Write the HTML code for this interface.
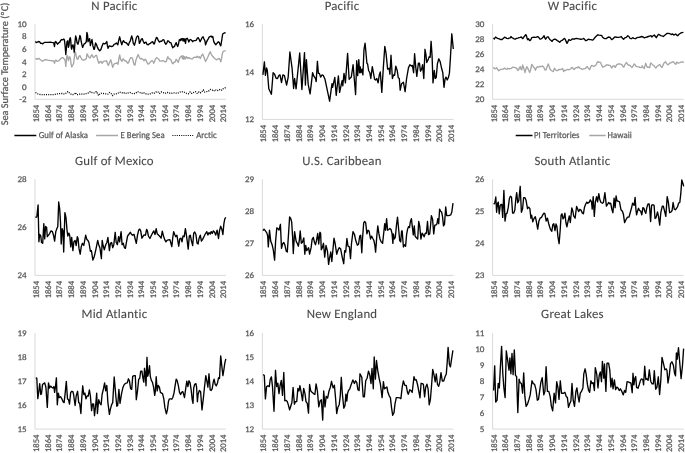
<!DOCTYPE html>
<html><head><meta charset="utf-8"><title>Sea Surface Temperature</title>
<style>html,body{margin:0;padding:0;background:#fff;}svg{display:block;}text{font-variant-ligatures:none;font-kerning:normal;text-rendering:geometricPrecision;}.t{stroke:#595959;stroke-width:0.25px;}</style></head>
<body><svg width="685" height="453" viewBox="0 0 685 453" font-family="Carlito, 'Liberation Sans', sans-serif">
<rect width="685" height="453" fill="#fff"/>

<g>
<text transform="translate(114.39999999999999,9.65)" font-size="12.8" letter-spacing="0.22" fill="#4a4a4a" stroke="#4a4a4a" stroke-width="0.1" text-anchor="middle" textLength="46.20" lengthAdjust="spacingAndGlyphs">N Pacific</text>
<path d="M35.0 24.2V99.3H225.8" fill="none" stroke="#d9d9d9" stroke-width="1"/>
<text class="t" transform="translate(26.7,102.0) scale(1.05,1)" font-size="8.6" fill="#595959" text-anchor="end" textLength="7.00" lengthAdjust="spacingAndGlyphs">-2</text>
<text class="t" transform="translate(26.7,89.5) scale(1.05,1)" font-size="8.6" fill="#595959" text-anchor="end" textLength="4.36" lengthAdjust="spacingAndGlyphs">0</text>
<text class="t" transform="translate(26.7,77.0) scale(1.05,1)" font-size="8.6" fill="#595959" text-anchor="end" textLength="4.36" lengthAdjust="spacingAndGlyphs">2</text>
<text class="t" transform="translate(26.7,64.5) scale(1.05,1)" font-size="8.6" fill="#595959" text-anchor="end" textLength="4.36" lengthAdjust="spacingAndGlyphs">4</text>
<text class="t" transform="translate(26.7,51.9) scale(1.05,1)" font-size="8.6" fill="#595959" text-anchor="end" textLength="4.36" lengthAdjust="spacingAndGlyphs">6</text>
<text class="t" transform="translate(26.7,39.4) scale(1.05,1)" font-size="8.6" fill="#595959" text-anchor="end" textLength="4.36" lengthAdjust="spacingAndGlyphs">8</text>
<text class="t" transform="translate(26.7,26.9) scale(1.05,1)" font-size="8.6" fill="#595959" text-anchor="end" textLength="8.72" lengthAdjust="spacingAndGlyphs">10</text>
<text class="t" transform="translate(38.99,104.80) rotate(-90)" font-size="8.6" fill="#595959" text-anchor="end" textLength="17.44" lengthAdjust="spacingAndGlyphs">1854</text>
<text class="t" transform="translate(50.69,104.80) rotate(-90)" font-size="8.6" fill="#595959" text-anchor="end" textLength="17.44" lengthAdjust="spacingAndGlyphs">1864</text>
<text class="t" transform="translate(62.40,104.80) rotate(-90)" font-size="8.6" fill="#595959" text-anchor="end" textLength="17.44" lengthAdjust="spacingAndGlyphs">1874</text>
<text class="t" transform="translate(74.10,104.80) rotate(-90)" font-size="8.6" fill="#595959" text-anchor="end" textLength="17.44" lengthAdjust="spacingAndGlyphs">1884</text>
<text class="t" transform="translate(85.81,104.80) rotate(-90)" font-size="8.6" fill="#595959" text-anchor="end" textLength="17.44" lengthAdjust="spacingAndGlyphs">1894</text>
<text class="t" transform="translate(97.51,104.80) rotate(-90)" font-size="8.6" fill="#595959" text-anchor="end" textLength="17.44" lengthAdjust="spacingAndGlyphs">1904</text>
<text class="t" transform="translate(109.22,104.80) rotate(-90)" font-size="8.6" fill="#595959" text-anchor="end" textLength="17.44" lengthAdjust="spacingAndGlyphs">1914</text>
<text class="t" transform="translate(120.92,104.80) rotate(-90)" font-size="8.6" fill="#595959" text-anchor="end" textLength="17.44" lengthAdjust="spacingAndGlyphs">1924</text>
<text class="t" transform="translate(132.63,104.80) rotate(-90)" font-size="8.6" fill="#595959" text-anchor="end" textLength="17.44" lengthAdjust="spacingAndGlyphs">1934</text>
<text class="t" transform="translate(144.33,104.80) rotate(-90)" font-size="8.6" fill="#595959" text-anchor="end" textLength="17.44" lengthAdjust="spacingAndGlyphs">1944</text>
<text class="t" transform="translate(156.04,104.80) rotate(-90)" font-size="8.6" fill="#595959" text-anchor="end" textLength="17.44" lengthAdjust="spacingAndGlyphs">1954</text>
<text class="t" transform="translate(167.75,104.80) rotate(-90)" font-size="8.6" fill="#595959" text-anchor="end" textLength="17.44" lengthAdjust="spacingAndGlyphs">1964</text>
<text class="t" transform="translate(179.45,104.80) rotate(-90)" font-size="8.6" fill="#595959" text-anchor="end" textLength="17.44" lengthAdjust="spacingAndGlyphs">1974</text>
<text class="t" transform="translate(191.16,104.80) rotate(-90)" font-size="8.6" fill="#595959" text-anchor="end" textLength="17.44" lengthAdjust="spacingAndGlyphs">1984</text>
<text class="t" transform="translate(202.86,104.80) rotate(-90)" font-size="8.6" fill="#595959" text-anchor="end" textLength="17.44" lengthAdjust="spacingAndGlyphs">1994</text>
<text class="t" transform="translate(214.57,104.80) rotate(-90)" font-size="8.6" fill="#595959" text-anchor="end" textLength="17.44" lengthAdjust="spacingAndGlyphs">2004</text>
<text class="t" transform="translate(226.27,104.80) rotate(-90)" font-size="8.6" fill="#595959" text-anchor="end" textLength="17.44" lengthAdjust="spacingAndGlyphs">2014</text>
</g>
<path d="M35.3 41.5 L36.4 42.6 L37.3 42.1 L38.6 41.5 L39.7 41.9 L40.6 43.4 L41.7 43.3 L42.6 43.9 L43.5 43.0 L44.8 42.4 L46.6 42.4 L48.3 42.4 L50.1 42.1 L51.8 42.4 L53.2 42.6 L53.8 43.0 L54.5 46.5 L55.1 42.1 L55.8 41.5 L56.7 43.0 L57.6 44.2 L58.5 43.0 L59.8 42.1 L60.7 40.4 L61.6 39.5 L62.3 39.9 L62.9 39.7 L63.8 39.0 L64.4 39.9 L65.1 45.7 L65.8 54.5 L66.4 47.9 L67.0 41.7 L67.7 40.8 L68.4 47.4 L69.1 44.8 L69.5 39.9 L70.2 37.7 L70.6 39.0 L71.3 47.9 L71.7 49.2 L72.3 45.7 L73.0 44.8 L73.7 47.9 L74.3 52.7 L75.0 41.7 L75.7 35.9 L76.4 38.6 L77.0 42.6 L77.9 44.3 L78.8 41.2 L79.9 35.5 L80.5 36.8 L81.1 40.8 L81.8 44.3 L82.6 47.4 L83.3 45.7 L84.1 43.9 L85.2 43.4 L86.3 41.7 L86.9 32.4 L87.6 35.1 L88.0 41.7 L88.9 39.5 L89.6 38.6 L90.4 45.7 L91.1 42.6 L92.0 39.5 L92.9 45.7 L93.8 49.2 L94.4 49.2 L95.6 43.0 L96.4 44.3 L97.5 47.4 L98.6 49.6 L99.7 50.7 L100.8 49.8 L101.9 46.5 L103.2 43.3 L104.6 43.9 L105.6 43.4 L106.8 41.5 L107.4 45.7 L108.1 48.3 L109.1 45.9 L110.3 46.1 L111.6 46.5 L112.9 46.1 L114.1 44.3 L115.3 43.9 L116.5 43.0 L117.1 43.9 L117.8 44.8 L118.7 40.4 L119.7 36.8 L120.6 40.8 L121.8 44.8 L122.6 42.1 L123.5 40.6 L124.4 42.1 L125.6 42.6 L126.6 43.0 L127.5 44.3 L128.4 45.2 L129.3 42.6 L130.3 40.8 L131.7 35.9 L132.6 39.0 L133.2 43.0 L134.4 45.2 L135.4 41.7 L136.5 37.3 L137.6 35.9 L138.5 36.8 L139.4 43.4 L140.3 41.7 L141.4 39.0 L142.3 38.6 L143.2 41.2 L144.3 43.4 L145.1 42.6 L146.0 42.1 L146.9 44.3 L148.2 44.8 L149.1 43.9 L150.4 43.3 L151.8 42.1 L152.8 41.7 L153.7 43.9 L154.4 43.9 L155.3 40.4 L156.4 37.4 L157.3 38.1 L158.3 40.4 L159.5 42.1 L160.6 41.2 L161.8 41.2 L163.0 39.7 L163.9 39.9 L164.8 42.6 L165.9 44.3 L167.0 42.6 L167.8 40.8 L168.7 41.2 L169.8 42.6 L170.9 42.6 L171.8 45.2 L172.7 47.9 L173.6 46.8 L174.5 46.5 L175.3 44.3 L176.2 42.6 L176.8 44.8 L177.7 46.5 L178.4 44.3 L179.3 39.9 L180.0 39.5 L180.6 40.6 L181.1 38.6 L181.8 39.9 L182.4 38.6 L183.0 40.8 L183.6 38.6 L184.2 41.2 L184.8 39.0 L185.5 43.4 L186.2 38.6 L187.3 38.3 L188.1 39.9 L188.8 42.1 L189.7 39.9 L190.6 39.5 L191.7 40.4 L192.6 41.7 L193.4 40.8 L194.8 40.6 L196.1 40.4 L197.4 38.1 L198.3 37.7 L199.2 39.5 L200.1 41.7 L201.2 39.5 L202.3 37.3 L203.1 36.8 L204.0 39.0 L204.9 40.8 L205.6 44.8 L206.5 42.1 L207.6 39.9 L208.4 38.6 L209.3 36.8 L210.2 36.5 L211.3 36.1 L212.1 37.4 L212.8 36.5 L213.7 41.4 L214.8 43.6 L215.9 44.7 L217.1 43.2 L218.3 41.8 L219.2 42.3 L220.1 44.9 L220.8 45.8 L221.7 40.5 L222.6 34.3 L223.4 33.4 L224.3 33.0 L225.6 32.6" fill="none" stroke="#000" stroke-width="1.35" stroke-linejoin="round"/>
<path d="M35.3 58.5 L36.4 58.9 L37.3 59.3 L38.2 58.5 L39.1 58.6 L40.4 59.8 L41.7 60.7 L42.6 61.3 L43.5 60.4 L44.8 59.8 L46.1 59.5 L47.4 60.2 L49.2 60.4 L51.0 60.7 L52.7 60.7 L53.8 61.1 L54.5 63.3 L55.2 60.7 L56.1 60.2 L57.0 61.3 L57.8 61.1 L58.9 60.7 L60.2 59.3 L61.1 58.3 L62.0 57.6 L63.3 58.0 L64.2 58.9 L65.1 60.2 L65.8 66.4 L66.4 59.8 L67.0 55.4 L67.7 56.7 L68.4 60.7 L69.1 58.0 L69.7 56.7 L70.4 58.5 L71.1 63.8 L71.7 66.8 L72.6 65.5 L73.5 63.8 L74.1 59.3 L74.8 53.2 L75.5 52.3 L76.1 55.4 L77.0 58.9 L77.9 59.3 L78.8 56.7 L79.9 55.6 L80.5 56.7 L81.1 58.0 L82.3 59.8 L83.6 60.0 L84.9 59.8 L86.3 58.5 L87.0 53.9 L87.6 54.9 L88.5 56.7 L89.3 57.6 L90.2 58.0 L91.1 55.8 L92.0 54.7 L92.9 56.7 L93.8 57.6 L94.7 56.7 L95.7 55.4 L96.6 55.4 L97.5 59.3 L98.8 63.3 L99.7 62.0 L101.0 61.5 L102.3 63.3 L103.2 61.5 L104.6 61.1 L105.9 61.1 L106.5 60.7 L107.4 63.3 L108.3 65.5 L109.4 62.9 L110.7 59.8 L111.6 62.9 L112.7 67.3 L113.4 65.5 L114.3 63.8 L115.6 63.3 L116.9 63.0 L118.0 64.2 L118.9 58.5 L119.7 54.9 L120.6 59.3 L121.8 61.5 L122.6 59.3 L123.5 58.9 L124.4 60.7 L125.6 60.7 L126.8 62.0 L127.9 63.3 L128.8 62.0 L129.7 59.3 L130.8 57.6 L132.1 57.6 L133.0 60.2 L133.8 64.2 L135.0 65.1 L135.9 60.2 L137.2 56.7 L138.3 54.7 L139.1 56.7 L140.3 58.9 L141.6 58.5 L142.9 59.3 L144.1 60.7 L145.1 59.3 L146.2 60.2 L146.9 62.4 L148.2 64.2 L149.6 62.9 L150.9 61.5 L151.8 60.7 L152.8 61.1 L153.7 63.3 L154.6 61.5 L155.5 58.9 L156.6 57.6 L157.7 58.5 L158.8 59.3 L159.9 61.1 L161.2 61.1 L162.6 60.7 L163.9 61.1 L165.2 62.0 L166.3 61.5 L167.1 58.5 L167.8 56.7 L168.7 58.5 L169.8 58.9 L170.9 59.8 L172.1 62.9 L173.0 63.8 L173.8 62.4 L175.1 62.0 L176.2 59.3 L177.1 60.7 L178.3 62.4 L179.3 58.9 L180.2 57.1 L181.1 56.7 L181.8 55.8 L182.5 58.9 L183.2 55.8 L183.9 59.3 L184.6 56.7 L185.5 58.9 L186.4 56.7 L187.3 57.6 L188.1 58.5 L189.0 57.6 L190.1 58.5 L191.2 58.9 L192.6 58.9 L193.4 57.6 L194.8 57.1 L196.1 57.6 L197.1 56.2 L198.3 57.6 L199.2 56.7 L200.3 58.5 L201.4 55.8 L202.7 54.0 L203.8 56.7 L204.7 59.3 L205.6 61.5 L206.7 59.3 L208.0 56.7 L209.1 54.0 L210.2 51.7 L211.3 54.3 L212.4 56.1 L213.7 57.4 L215.1 58.7 L216.4 59.8 L217.7 59.2 L219.0 58.3 L219.9 59.6 L220.8 61.8 L221.7 57.4 L222.6 52.6 L223.6 51.2 L224.8 50.8 L225.6 50.4" fill="none" stroke="#a6a6a6" stroke-width="1.35" stroke-linejoin="round"/>
<path d="M35.5 92.5 L37.7 93.8 L39.5 94.4 L42.1 94.7 L44.7 94.7 L47.3 94.7 L50.0 94.7 L52.6 94.7 L55.2 94.4 L56.8 93.8 L58.7 93.8 L60.5 93.5 L62.2 93.5 L64.4 94.1 L65.7 93.4 L67.0 92.3 L67.9 91.6 L68.8 92.5 L70.1 93.4 L71.4 94.4 L72.7 94.7 L74.1 94.2 L74.9 93.4 L75.5 92.5 L76.2 94.1 L77.6 94.7 L78.9 94.4 L80.6 93.8 L82.4 94.2 L85.0 94.2 L86.8 93.4 L88.5 92.9 L90.3 91.6 L92.0 92.5 L94.2 92.9 L96.4 91.6 L97.7 93.8 L98.6 95.6 L99.9 93.8 L101.2 93.4 L103.0 93.5 L105.6 93.8 L107.8 94.1 L109.5 92.5 L111.3 93.8 L112.6 95.6 L113.9 94.2 L116.1 93.8 L117.8 93.4 L119.6 92.0 L121.4 92.5 L123.1 93.4 L124.9 92.5 L126.6 93.5 L128.4 92.9 L130.1 92.5 L131.9 93.4 L133.2 93.8 L135.4 93.4 L137.6 91.6 L139.7 92.5 L141.5 93.4 L143.3 92.5 L145.0 93.4 L146.8 94.2 L148.5 94.2 L150.3 93.8 L152.0 92.9 L153.8 93.4 L156.0 92.0 L157.7 91.6 L159.5 93.4 L161.2 92.0 L163.0 92.5 L165.1 93.4 L167.3 92.5 L169.1 92.9 L170.8 93.5 L173.0 92.9 L175.2 92.9 L177.4 93.4 L179.2 92.5 L180.9 91.6 L183.1 91.8 L184.9 92.5 L186.6 93.5 L188.4 93.8 L190.1 92.0 L191.9 93.4 L193.6 92.5 L195.4 91.6 L197.1 93.4 L198.9 92.0 L200.2 92.9 L201.9 91.6 L203.3 89.8 L204.6 92.0 L206.8 91.6 L208.5 91.2 L210.3 89.4 L212.0 89.8 L213.8 91.2 L215.2 89.7 L217.0 90.8 L218.7 90.1 L220.5 89.2 L221.8 90.1 L223.1 88.8 L224.4 88.4 L225.6 87.5" fill="none" stroke="#000" stroke-width="1.3" stroke-linejoin="round" stroke-dasharray="1 1.2"/>
<g>
<text transform="translate(342.0,9.65)" font-size="12.8" letter-spacing="0.22" fill="#4a4a4a" stroke="#4a4a4a" stroke-width="0.1" text-anchor="middle" textLength="34.61" lengthAdjust="spacingAndGlyphs">Pacific</text>
<path d="M262.4 24.2V119.4H453.6" fill="none" stroke="#d9d9d9" stroke-width="1"/>
<text class="t" transform="translate(254.1,122.1) scale(1.05,1)" font-size="8.6" fill="#595959" text-anchor="end" textLength="8.72" lengthAdjust="spacingAndGlyphs">12</text>
<text class="t" transform="translate(254.1,74.5) scale(1.05,1)" font-size="8.6" fill="#595959" text-anchor="end" textLength="8.72" lengthAdjust="spacingAndGlyphs">14</text>
<text class="t" transform="translate(254.1,26.9) scale(1.05,1)" font-size="8.6" fill="#595959" text-anchor="end" textLength="8.72" lengthAdjust="spacingAndGlyphs">16</text>
<text class="t" transform="translate(266.39,124.90) rotate(-90)" font-size="8.6" fill="#595959" text-anchor="end" textLength="17.44" lengthAdjust="spacingAndGlyphs">1854</text>
<text class="t" transform="translate(278.12,124.90) rotate(-90)" font-size="8.6" fill="#595959" text-anchor="end" textLength="17.44" lengthAdjust="spacingAndGlyphs">1864</text>
<text class="t" transform="translate(289.85,124.90) rotate(-90)" font-size="8.6" fill="#595959" text-anchor="end" textLength="17.44" lengthAdjust="spacingAndGlyphs">1874</text>
<text class="t" transform="translate(301.58,124.90) rotate(-90)" font-size="8.6" fill="#595959" text-anchor="end" textLength="17.44" lengthAdjust="spacingAndGlyphs">1884</text>
<text class="t" transform="translate(313.31,124.90) rotate(-90)" font-size="8.6" fill="#595959" text-anchor="end" textLength="17.44" lengthAdjust="spacingAndGlyphs">1894</text>
<text class="t" transform="translate(325.04,124.90) rotate(-90)" font-size="8.6" fill="#595959" text-anchor="end" textLength="17.44" lengthAdjust="spacingAndGlyphs">1904</text>
<text class="t" transform="translate(336.77,124.90) rotate(-90)" font-size="8.6" fill="#595959" text-anchor="end" textLength="17.44" lengthAdjust="spacingAndGlyphs">1914</text>
<text class="t" transform="translate(348.50,124.90) rotate(-90)" font-size="8.6" fill="#595959" text-anchor="end" textLength="17.44" lengthAdjust="spacingAndGlyphs">1924</text>
<text class="t" transform="translate(360.23,124.90) rotate(-90)" font-size="8.6" fill="#595959" text-anchor="end" textLength="17.44" lengthAdjust="spacingAndGlyphs">1934</text>
<text class="t" transform="translate(371.96,124.90) rotate(-90)" font-size="8.6" fill="#595959" text-anchor="end" textLength="17.44" lengthAdjust="spacingAndGlyphs">1944</text>
<text class="t" transform="translate(383.69,124.90) rotate(-90)" font-size="8.6" fill="#595959" text-anchor="end" textLength="17.44" lengthAdjust="spacingAndGlyphs">1954</text>
<text class="t" transform="translate(395.42,124.90) rotate(-90)" font-size="8.6" fill="#595959" text-anchor="end" textLength="17.44" lengthAdjust="spacingAndGlyphs">1964</text>
<text class="t" transform="translate(407.15,124.90) rotate(-90)" font-size="8.6" fill="#595959" text-anchor="end" textLength="17.44" lengthAdjust="spacingAndGlyphs">1974</text>
<text class="t" transform="translate(418.88,124.90) rotate(-90)" font-size="8.6" fill="#595959" text-anchor="end" textLength="17.44" lengthAdjust="spacingAndGlyphs">1984</text>
<text class="t" transform="translate(430.61,124.90) rotate(-90)" font-size="8.6" fill="#595959" text-anchor="end" textLength="17.44" lengthAdjust="spacingAndGlyphs">1994</text>
<text class="t" transform="translate(442.34,124.90) rotate(-90)" font-size="8.6" fill="#595959" text-anchor="end" textLength="17.44" lengthAdjust="spacingAndGlyphs">2004</text>
<text class="t" transform="translate(454.07,124.90) rotate(-90)" font-size="8.6" fill="#595959" text-anchor="end" textLength="17.44" lengthAdjust="spacingAndGlyphs">2014</text>
</g>
<path d="M262.9 74.9 L264.4 61.8 L265.4 75.3 L266.6 68.0 L267.3 70.5 L268.8 88.8 L270.2 91.7 L271.4 94.3 L273.1 72.7 L274.6 74.2 L276.1 78.3 L277.5 78.5 L279.0 75.3 L280.0 74.9 L281.5 82.6 L282.9 74.9 L284.4 75.6 L286.6 85.1 L288.2 77.1 L289.9 52.0 L292.1 68.3 L293.6 88.5 L294.6 78.5 L296.1 88.8 L299.7 53.0 L301.9 89.5 L304.5 52.6 L305.4 85.1 L306.4 59.6 L308.2 84.4 L310.1 93.9 L312.6 72.7 L314.0 76.4 L315.5 78.5 L316.2 81.5 L317.4 61.3 L318.4 73.4 L319.4 73.4 L320.6 77.1 L322.1 74.9 L323.2 75.3 L325.0 79.3 L329.6 101.2 L332.0 83.7 L332.6 87.3 L334.8 77.4 L336.2 95.3 L338.4 75.9 L339.6 92.4 L342.1 80.7 L342.8 85.8 L344.0 73.4 L345.4 82.9 L347.6 53.4 L349.1 79.3 L351.3 77.1 L353.1 64.7 L355.6 94.6 L356.7 60.7 L357.7 75.6 L358.8 59.6 L359.6 72.7 L360.3 66.9 L361.0 72.7 L362.1 69.1 L362.9 74.9 L364.0 49.3 L365.1 43.2 L366.9 63.2 L367.6 63.9 L368.6 70.5 L369.8 72.7 L370.8 78.5 L372.3 66.6 L373.4 72.7 L374.6 79.3 L375.6 80.0 L376.8 78.5 L378.1 82.9 L379.3 74.9 L380.3 72.0 L381.8 92.4 L383.2 69.8 L384.8 46.4 L386.1 53.7 L387.6 69.1 L389.1 68.3 L389.9 74.2 L391.0 55.2 L392.4 78.5 L393.6 74.9 L394.6 75.3 L395.8 66.1 L397.2 70.5 L398.3 77.8 L399.3 78.5 L400.2 90.2 L401.6 83.7 L403.4 82.2 L405.1 91.7 L406.6 78.5 L408.5 67.6 L409.9 64.7 L411.4 66.1 L412.4 65.4 L413.6 72.7 L414.6 53.7 L415.8 67.6 L416.8 76.4 L418.4 63.2 L419.4 63.2 L420.5 71.2 L421.6 69.1 L422.6 64.7 L423.8 78.5 L425.0 49.3 L426.0 55.2 L426.7 62.5 L428.2 59.6 L429.2 56.6 L430.1 57.4 L431.1 41.3 L432.1 56.6 L433.0 82.9 L434.3 70.5 L435.2 78.5 L436.2 77.8 L437.4 63.9 L438.8 58.8 L440.2 61.8 L441.6 68.3 L442.8 72.7 L444.0 87.3 L445.0 79.3 L446.0 77.1 L447.2 80.0 L448.3 77.8 L449.4 73.4 L450.4 58.1 L451.8 33.8 L453.3 49.0" fill="none" stroke="#000" stroke-width="1.35" stroke-linejoin="round"/>
<g>
<text transform="translate(572.4,9.65)" font-size="12.8" letter-spacing="0.22" fill="#4a4a4a" stroke="#4a4a4a" stroke-width="0.1" text-anchor="middle" textLength="49.33" lengthAdjust="spacingAndGlyphs">W Pacific</text>
<path d="M492.6 24.2V99.3H683.7" fill="none" stroke="#d9d9d9" stroke-width="1"/>
<text class="t" transform="translate(484.3,102.0) scale(1.05,1)" font-size="8.6" fill="#595959" text-anchor="end" textLength="8.72" lengthAdjust="spacingAndGlyphs">20</text>
<text class="t" transform="translate(484.3,87.0) scale(1.05,1)" font-size="8.6" fill="#595959" text-anchor="end" textLength="8.72" lengthAdjust="spacingAndGlyphs">22</text>
<text class="t" transform="translate(484.3,72.0) scale(1.05,1)" font-size="8.6" fill="#595959" text-anchor="end" textLength="8.72" lengthAdjust="spacingAndGlyphs">24</text>
<text class="t" transform="translate(484.3,56.9) scale(1.05,1)" font-size="8.6" fill="#595959" text-anchor="end" textLength="8.72" lengthAdjust="spacingAndGlyphs">26</text>
<text class="t" transform="translate(484.3,41.9) scale(1.05,1)" font-size="8.6" fill="#595959" text-anchor="end" textLength="8.72" lengthAdjust="spacingAndGlyphs">28</text>
<text class="t" transform="translate(484.3,26.9) scale(1.05,1)" font-size="8.6" fill="#595959" text-anchor="end" textLength="8.72" lengthAdjust="spacingAndGlyphs">30</text>
<text class="t" transform="translate(496.59,104.80) rotate(-90)" font-size="8.6" fill="#595959" text-anchor="end" textLength="17.44" lengthAdjust="spacingAndGlyphs">1854</text>
<text class="t" transform="translate(508.31,104.80) rotate(-90)" font-size="8.6" fill="#595959" text-anchor="end" textLength="17.44" lengthAdjust="spacingAndGlyphs">1864</text>
<text class="t" transform="translate(520.03,104.80) rotate(-90)" font-size="8.6" fill="#595959" text-anchor="end" textLength="17.44" lengthAdjust="spacingAndGlyphs">1874</text>
<text class="t" transform="translate(531.76,104.80) rotate(-90)" font-size="8.6" fill="#595959" text-anchor="end" textLength="17.44" lengthAdjust="spacingAndGlyphs">1884</text>
<text class="t" transform="translate(543.48,104.80) rotate(-90)" font-size="8.6" fill="#595959" text-anchor="end" textLength="17.44" lengthAdjust="spacingAndGlyphs">1894</text>
<text class="t" transform="translate(555.21,104.80) rotate(-90)" font-size="8.6" fill="#595959" text-anchor="end" textLength="17.44" lengthAdjust="spacingAndGlyphs">1904</text>
<text class="t" transform="translate(566.93,104.80) rotate(-90)" font-size="8.6" fill="#595959" text-anchor="end" textLength="17.44" lengthAdjust="spacingAndGlyphs">1914</text>
<text class="t" transform="translate(578.65,104.80) rotate(-90)" font-size="8.6" fill="#595959" text-anchor="end" textLength="17.44" lengthAdjust="spacingAndGlyphs">1924</text>
<text class="t" transform="translate(590.38,104.80) rotate(-90)" font-size="8.6" fill="#595959" text-anchor="end" textLength="17.44" lengthAdjust="spacingAndGlyphs">1934</text>
<text class="t" transform="translate(602.10,104.80) rotate(-90)" font-size="8.6" fill="#595959" text-anchor="end" textLength="17.44" lengthAdjust="spacingAndGlyphs">1944</text>
<text class="t" transform="translate(613.83,104.80) rotate(-90)" font-size="8.6" fill="#595959" text-anchor="end" textLength="17.44" lengthAdjust="spacingAndGlyphs">1954</text>
<text class="t" transform="translate(625.55,104.80) rotate(-90)" font-size="8.6" fill="#595959" text-anchor="end" textLength="17.44" lengthAdjust="spacingAndGlyphs">1964</text>
<text class="t" transform="translate(637.27,104.80) rotate(-90)" font-size="8.6" fill="#595959" text-anchor="end" textLength="17.44" lengthAdjust="spacingAndGlyphs">1974</text>
<text class="t" transform="translate(649.00,104.80) rotate(-90)" font-size="8.6" fill="#595959" text-anchor="end" textLength="17.44" lengthAdjust="spacingAndGlyphs">1984</text>
<text class="t" transform="translate(660.72,104.80) rotate(-90)" font-size="8.6" fill="#595959" text-anchor="end" textLength="17.44" lengthAdjust="spacingAndGlyphs">1994</text>
<text class="t" transform="translate(672.45,104.80) rotate(-90)" font-size="8.6" fill="#595959" text-anchor="end" textLength="17.44" lengthAdjust="spacingAndGlyphs">2004</text>
<text class="t" transform="translate(684.17,104.80) rotate(-90)" font-size="8.6" fill="#595959" text-anchor="end" textLength="17.44" lengthAdjust="spacingAndGlyphs">2014</text>
</g>
<path d="M493.5 37.9 L494.4 39.0 L495.6 37.0 L496.6 37.7 L497.5 38.4 L498.6 38.6 L499.7 39.2 L500.8 39.5 L502.1 39.5 L503.2 38.6 L504.6 37.2 L505.6 37.7 L506.8 38.4 L508.1 38.6 L509.1 38.1 L510.3 37.9 L510.9 36.6 L511.8 37.5 L512.9 38.1 L514.1 38.8 L515.1 39.2 L516.5 38.4 L517.8 38.1 L519.1 37.7 L520.3 37.4 L521.3 37.0 L522.2 38.1 L522.9 38.6 L523.8 37.0 L524.7 36.1 L525.7 34.6 L526.4 35.7 L527.1 38.4 L527.7 39.7 L528.6 38.8 L529.3 40.1 L530.0 40.6 L530.8 39.7 L531.7 37.7 L532.8 37.4 L534.1 37.2 L535.4 37.3 L536.5 37.2 L537.4 36.7 L538.3 37.0 L539.1 37.9 L540.0 39.2 L541.2 38.8 L542.3 37.9 L543.2 37.0 L544.1 35.7 L544.8 37.9 L545.6 39.2 L546.5 37.9 L547.3 36.9 L548.2 36.9 L549.1 38.4 L550.0 39.7 L551.1 40.4 L552.1 41.4 L553.3 39.7 L554.6 39.2 L555.9 39.5 L557.3 40.6 L558.6 41.4 L559.7 42.3 L560.8 41.0 L562.1 40.4 L563.4 39.2 L564.5 38.4 L565.4 39.7 L566.1 41.4 L567.0 43.4 L567.8 41.9 L568.9 39.5 L569.6 40.1 L570.7 40.4 L571.8 39.2 L573.0 38.8 L574.2 39.2 L575.3 38.6 L576.5 38.4 L577.7 38.6 L578.9 38.8 L580.2 39.2 L581.5 39.2 L582.8 38.8 L583.7 38.4 L584.8 39.7 L585.9 40.7 L587.1 40.1 L588.3 39.2 L589.7 39.5 L591.0 39.7 L592.4 40.1 L593.4 39.7 L594.3 38.4 L595.4 37.0 L596.5 36.0 L597.8 34.8 L599.2 35.1 L600.5 35.3 L601.6 35.4 L602.4 37.0 L603.6 38.1 L604.9 38.6 L606.2 38.6 L607.4 37.7 L608.6 37.0 L610.1 37.4 L611.7 39.6 L613.1 38.7 L614.4 37.2 L615.7 37.0 L617.0 37.4 L618.3 37.4 L619.8 37.2 L621.3 36.5 L622.5 38.3 L623.6 39.2 L624.8 37.9 L626.3 37.4 L627.8 35.7 L628.9 36.5 L630.1 38.3 L631.3 38.7 L632.7 37.7 L634.0 38.3 L635.4 38.7 L636.6 37.9 L637.8 37.4 L639.1 37.4 L640.4 37.0 L641.7 36.5 L643.1 37.0 L644.4 37.9 L645.7 37.4 L647.0 37.0 L648.3 36.5 L649.7 36.1 L651.0 35.7 L651.9 37.0 L653.2 35.7 L654.3 35.0 L655.4 36.5 L656.3 37.7 L657.2 36.1 L658.5 34.3 L659.6 34.8 L660.7 35.7 L662.0 35.9 L663.3 36.5 L664.7 35.2 L666.0 34.2 L667.1 33.4 L668.2 33.4 L669.8 33.7 L671.3 34.5 L672.7 34.0 L673.8 35.1 L674.6 34.5 L675.7 34.0 L676.6 35.1 L677.7 35.7 L679.0 34.3 L680.5 33.2 L681.9 32.6 L683.4 32.3" fill="none" stroke="#000" stroke-width="1.35" stroke-linejoin="round"/>
<path d="M493.3 67.2 L494.4 68.5 L495.6 68.7 L496.6 67.8 L497.5 69.2 L498.8 70.7 L500.0 69.8 L501.0 69.4 L502.3 69.2 L503.5 69.0 L504.7 68.1 L505.9 69.0 L506.8 69.4 L507.9 68.3 L509.0 68.7 L510.3 68.7 L511.4 68.3 L512.5 67.2 L513.8 67.4 L515.1 67.6 L516.5 68.1 L517.8 70.3 L518.7 69.8 L519.6 67.2 L520.3 66.7 L520.9 69.0 L521.8 69.8 L522.6 65.0 L523.5 67.2 L524.1 69.4 L525.0 72.5 L525.9 69.0 L526.8 66.7 L527.7 68.1 L528.6 70.3 L529.7 72.5 L530.6 69.8 L531.7 64.5 L532.6 65.4 L533.5 67.2 L534.6 68.1 L535.4 70.3 L536.3 68.1 L537.4 66.7 L538.5 67.2 L539.8 66.3 L541.2 66.7 L542.5 65.9 L543.8 67.2 L545.0 70.1 L546.0 69.8 L546.9 67.2 L548.2 63.9 L549.1 66.3 L550.0 69.0 L551.1 70.3 L552.1 71.0 L553.3 71.6 L554.4 68.1 L555.5 69.8 L556.8 70.7 L558.1 70.1 L559.0 69.4 L560.3 69.6 L561.5 69.2 L562.6 68.5 L563.6 71.6 L564.3 70.3 L565.4 70.5 L566.5 69.8 L567.8 69.4 L569.2 69.8 L570.5 69.0 L571.8 67.4 L573.0 68.3 L574.2 69.6 L575.3 68.1 L576.7 67.4 L577.7 67.8 L578.6 66.7 L579.8 68.1 L580.9 68.5 L582.1 69.4 L583.0 69.2 L584.2 68.7 L585.3 68.5 L586.4 67.2 L587.3 66.7 L588.3 68.1 L589.5 69.6 L590.6 67.2 L591.7 65.4 L592.7 65.9 L593.9 66.3 L594.8 65.9 L595.9 65.0 L596.8 63.2 L597.7 61.6 L598.7 62.3 L600.1 62.2 L600.9 63.2 L601.8 65.4 L602.7 67.2 L604.0 66.7 L605.3 65.9 L606.7 64.8 L608.0 65.0 L609.3 65.4 L610.1 65.4 L611.6 68.0 L613.1 65.8 L614.2 66.0 L615.3 67.4 L616.6 64.9 L617.9 64.0 L619.2 63.9 L620.6 64.2 L621.9 64.7 L623.0 66.7 L623.9 67.1 L625.0 64.5 L626.3 62.5 L627.4 64.0 L628.7 65.4 L629.8 65.1 L631.0 66.5 L632.0 67.6 L633.1 65.8 L634.2 63.9 L635.1 64.9 L636.3 66.5 L637.5 66.7 L638.9 66.9 L640.1 67.6 L641.3 67.4 L642.2 65.8 L643.1 67.6 L644.2 68.6 L645.1 65.4 L645.7 63.3 L646.6 65.8 L647.5 67.4 L648.6 67.1 L649.7 67.6 L650.6 63.0 L651.6 63.6 L652.8 64.9 L653.9 65.8 L655.0 67.1 L655.8 68.0 L657.2 66.2 L658.5 65.4 L659.8 64.5 L661.0 66.7 L662.0 67.6 L663.1 64.9 L664.2 62.7 L665.6 61.8 L666.6 63.6 L667.8 64.9 L669.8 63.0 L671.3 62.7 L673.1 61.6 L674.4 63.0 L675.7 64.4 L676.8 62.1 L678.3 63.2 L679.7 62.7 L681.0 62.1 L682.3 61.9 L683.8 62.4" fill="none" stroke="#a6a6a6" stroke-width="1.35" stroke-linejoin="round"/>
<g>
<text transform="translate(114.39999999999999,164.95000000000002)" font-size="12.8" letter-spacing="0.22" fill="#4a4a4a" stroke="#4a4a4a" stroke-width="0.1" text-anchor="middle" textLength="78.81" lengthAdjust="spacingAndGlyphs">Gulf of Mexico</text>
<path d="M35.0 179.2V275.4H225.8" fill="none" stroke="#d9d9d9" stroke-width="1"/>
<text class="t" transform="translate(26.7,278.1) scale(1.05,1)" font-size="8.6" fill="#595959" text-anchor="end" textLength="8.72" lengthAdjust="spacingAndGlyphs">24</text>
<text class="t" transform="translate(26.7,230.0) scale(1.05,1)" font-size="8.6" fill="#595959" text-anchor="end" textLength="8.72" lengthAdjust="spacingAndGlyphs">26</text>
<text class="t" transform="translate(26.7,181.9) scale(1.05,1)" font-size="8.6" fill="#595959" text-anchor="end" textLength="8.72" lengthAdjust="spacingAndGlyphs">28</text>
<text class="t" transform="translate(38.99,280.90) rotate(-90)" font-size="8.6" fill="#595959" text-anchor="end" textLength="17.44" lengthAdjust="spacingAndGlyphs">1854</text>
<text class="t" transform="translate(50.69,280.90) rotate(-90)" font-size="8.6" fill="#595959" text-anchor="end" textLength="17.44" lengthAdjust="spacingAndGlyphs">1864</text>
<text class="t" transform="translate(62.40,280.90) rotate(-90)" font-size="8.6" fill="#595959" text-anchor="end" textLength="17.44" lengthAdjust="spacingAndGlyphs">1874</text>
<text class="t" transform="translate(74.10,280.90) rotate(-90)" font-size="8.6" fill="#595959" text-anchor="end" textLength="17.44" lengthAdjust="spacingAndGlyphs">1884</text>
<text class="t" transform="translate(85.81,280.90) rotate(-90)" font-size="8.6" fill="#595959" text-anchor="end" textLength="17.44" lengthAdjust="spacingAndGlyphs">1894</text>
<text class="t" transform="translate(97.51,280.90) rotate(-90)" font-size="8.6" fill="#595959" text-anchor="end" textLength="17.44" lengthAdjust="spacingAndGlyphs">1904</text>
<text class="t" transform="translate(109.22,280.90) rotate(-90)" font-size="8.6" fill="#595959" text-anchor="end" textLength="17.44" lengthAdjust="spacingAndGlyphs">1914</text>
<text class="t" transform="translate(120.92,280.90) rotate(-90)" font-size="8.6" fill="#595959" text-anchor="end" textLength="17.44" lengthAdjust="spacingAndGlyphs">1924</text>
<text class="t" transform="translate(132.63,280.90) rotate(-90)" font-size="8.6" fill="#595959" text-anchor="end" textLength="17.44" lengthAdjust="spacingAndGlyphs">1934</text>
<text class="t" transform="translate(144.33,280.90) rotate(-90)" font-size="8.6" fill="#595959" text-anchor="end" textLength="17.44" lengthAdjust="spacingAndGlyphs">1944</text>
<text class="t" transform="translate(156.04,280.90) rotate(-90)" font-size="8.6" fill="#595959" text-anchor="end" textLength="17.44" lengthAdjust="spacingAndGlyphs">1954</text>
<text class="t" transform="translate(167.75,280.90) rotate(-90)" font-size="8.6" fill="#595959" text-anchor="end" textLength="17.44" lengthAdjust="spacingAndGlyphs">1964</text>
<text class="t" transform="translate(179.45,280.90) rotate(-90)" font-size="8.6" fill="#595959" text-anchor="end" textLength="17.44" lengthAdjust="spacingAndGlyphs">1974</text>
<text class="t" transform="translate(191.16,280.90) rotate(-90)" font-size="8.6" fill="#595959" text-anchor="end" textLength="17.44" lengthAdjust="spacingAndGlyphs">1984</text>
<text class="t" transform="translate(202.86,280.90) rotate(-90)" font-size="8.6" fill="#595959" text-anchor="end" textLength="17.44" lengthAdjust="spacingAndGlyphs">1994</text>
<text class="t" transform="translate(214.57,280.90) rotate(-90)" font-size="8.6" fill="#595959" text-anchor="end" textLength="17.44" lengthAdjust="spacingAndGlyphs">2004</text>
<text class="t" transform="translate(226.27,280.90) rotate(-90)" font-size="8.6" fill="#595959" text-anchor="end" textLength="17.44" lengthAdjust="spacingAndGlyphs">2014</text>
</g>
<path d="M35.4 217.4 L36.8 217.0 L38.1 204.9 L38.9 241.8 L39.7 234.5 L40.8 236.0 L41.5 242.5 L42.7 243.3 L43.8 223.6 L44.7 238.9 L45.6 226.5 L46.6 227.2 L47.3 236.7 L48.5 235.2 L49.5 233.8 L51.0 230.9 L52.4 231.6 L53.5 235.2 L54.6 241.1 L55.8 231.6 L56.8 228.7 L57.8 226.5 L58.7 202.0 L59.7 209.0 L60.5 222.1 L61.2 244.0 L62.2 228.7 L63.0 230.9 L63.7 252.0 L64.9 212.6 L66.0 217.7 L67.0 230.1 L67.8 236.0 L68.9 233.1 L69.8 236.0 L70.7 246.9 L71.7 237.4 L72.9 250.6 L73.9 241.8 L75.1 240.4 L76.2 245.5 L77.3 236.7 L78.0 238.2 L79.0 248.4 L80.2 254.2 L81.2 246.9 L82.4 243.3 L83.8 245.5 L85.0 238.9 L85.7 235.2 L86.8 239.3 L87.9 240.4 L88.9 242.5 L90.4 251.3 L91.4 250.6 L92.9 260.1 L94.3 256.4 L95.8 249.8 L97.7 240.4 L98.7 244.7 L99.9 247.7 L101.4 258.6 L102.2 240.4 L103.1 245.5 L104.3 249.8 L105.7 244.7 L106.9 242.5 L107.9 237.4 L109.4 250.6 L110.4 243.3 L111.6 242.5 L112.7 247.7 L113.8 244.7 L115.2 232.3 L116.2 242.5 L117.4 244.7 L118.6 236.7 L119.6 241.8 L121.1 231.6 L122.1 244.7 L123.3 243.3 L124.4 247.7 L125.4 248.4 L126.5 241.8 L127.6 236.0 L128.8 234.5 L130.3 232.3 L131.3 233.8 L132.3 235.2 L134.1 234.5 L135.3 239.6 L136.3 243.3 L137.5 235.2 L138.7 230.1 L139.7 229.1 L140.7 230.9 L141.9 238.2 L143.0 236.4 L144.1 235.0 L145.5 235.2 L146.6 229.4 L147.4 230.9 L148.4 236.0 L149.9 238.5 L151.4 235.2 L152.8 232.6 L153.8 230.9 L155.0 234.5 L156.2 228.7 L157.2 233.8 L158.7 235.2 L160.1 236.7 L161.1 238.2 L162.3 231.2 L163.5 236.0 L164.7 239.6 L166.0 241.8 L167.0 240.4 L168.4 239.9 L169.9 239.6 L171.1 244.0 L171.8 246.6 L172.8 237.4 L173.7 231.6 L174.7 234.5 L175.7 236.7 L176.9 235.2 L177.6 239.3 L178.7 246.2 L179.8 238.9 L181.0 238.2 L182.0 241.8 L183.0 236.0 L184.2 236.7 L185.4 228.7 L186.4 235.2 L187.1 240.4 L188.2 249.1 L189.3 236.0 L190.3 235.2 L191.5 241.1 L192.7 245.5 L193.7 233.1 L194.7 232.0 L195.9 234.5 L197.1 243.3 L198.1 244.0 L199.1 238.2 L200.3 235.2 L201.4 241.1 L202.5 239.6 L203.9 236.7 L205.4 233.8 L206.8 231.6 L207.9 235.0 L209.0 232.6 L210.2 234.1 L211.2 231.6 L212.2 233.5 L213.4 230.9 L214.6 232.3 L215.7 235.0 L217.1 230.1 L218.5 238.5 L219.5 230.9 L220.7 226.2 L221.9 229.4 L222.9 234.5 L223.9 223.6 L224.8 218.9 L225.8 217.4" fill="none" stroke="#000" stroke-width="1.35" stroke-linejoin="round"/>
<g>
<text transform="translate(342.0,164.95000000000002)" font-size="12.8" letter-spacing="0.22" fill="#4a4a4a" stroke="#4a4a4a" stroke-width="0.1" text-anchor="middle" textLength="79.33" lengthAdjust="spacingAndGlyphs">U.S. Caribbean</text>
<path d="M262.4 179.2V275.4H453.6" fill="none" stroke="#d9d9d9" stroke-width="1"/>
<text class="t" transform="translate(254.1,278.1) scale(1.05,1)" font-size="8.6" fill="#595959" text-anchor="end" textLength="8.72" lengthAdjust="spacingAndGlyphs">26</text>
<text class="t" transform="translate(254.1,246.0) scale(1.05,1)" font-size="8.6" fill="#595959" text-anchor="end" textLength="8.72" lengthAdjust="spacingAndGlyphs">27</text>
<text class="t" transform="translate(254.1,214.0) scale(1.05,1)" font-size="8.6" fill="#595959" text-anchor="end" textLength="8.72" lengthAdjust="spacingAndGlyphs">28</text>
<text class="t" transform="translate(254.1,181.9) scale(1.05,1)" font-size="8.6" fill="#595959" text-anchor="end" textLength="8.72" lengthAdjust="spacingAndGlyphs">29</text>
<text class="t" transform="translate(266.39,280.90) rotate(-90)" font-size="8.6" fill="#595959" text-anchor="end" textLength="17.44" lengthAdjust="spacingAndGlyphs">1854</text>
<text class="t" transform="translate(278.12,280.90) rotate(-90)" font-size="8.6" fill="#595959" text-anchor="end" textLength="17.44" lengthAdjust="spacingAndGlyphs">1864</text>
<text class="t" transform="translate(289.85,280.90) rotate(-90)" font-size="8.6" fill="#595959" text-anchor="end" textLength="17.44" lengthAdjust="spacingAndGlyphs">1874</text>
<text class="t" transform="translate(301.58,280.90) rotate(-90)" font-size="8.6" fill="#595959" text-anchor="end" textLength="17.44" lengthAdjust="spacingAndGlyphs">1884</text>
<text class="t" transform="translate(313.31,280.90) rotate(-90)" font-size="8.6" fill="#595959" text-anchor="end" textLength="17.44" lengthAdjust="spacingAndGlyphs">1894</text>
<text class="t" transform="translate(325.04,280.90) rotate(-90)" font-size="8.6" fill="#595959" text-anchor="end" textLength="17.44" lengthAdjust="spacingAndGlyphs">1904</text>
<text class="t" transform="translate(336.77,280.90) rotate(-90)" font-size="8.6" fill="#595959" text-anchor="end" textLength="17.44" lengthAdjust="spacingAndGlyphs">1914</text>
<text class="t" transform="translate(348.50,280.90) rotate(-90)" font-size="8.6" fill="#595959" text-anchor="end" textLength="17.44" lengthAdjust="spacingAndGlyphs">1924</text>
<text class="t" transform="translate(360.23,280.90) rotate(-90)" font-size="8.6" fill="#595959" text-anchor="end" textLength="17.44" lengthAdjust="spacingAndGlyphs">1934</text>
<text class="t" transform="translate(371.96,280.90) rotate(-90)" font-size="8.6" fill="#595959" text-anchor="end" textLength="17.44" lengthAdjust="spacingAndGlyphs">1944</text>
<text class="t" transform="translate(383.69,280.90) rotate(-90)" font-size="8.6" fill="#595959" text-anchor="end" textLength="17.44" lengthAdjust="spacingAndGlyphs">1954</text>
<text class="t" transform="translate(395.42,280.90) rotate(-90)" font-size="8.6" fill="#595959" text-anchor="end" textLength="17.44" lengthAdjust="spacingAndGlyphs">1964</text>
<text class="t" transform="translate(407.15,280.90) rotate(-90)" font-size="8.6" fill="#595959" text-anchor="end" textLength="17.44" lengthAdjust="spacingAndGlyphs">1974</text>
<text class="t" transform="translate(418.88,280.90) rotate(-90)" font-size="8.6" fill="#595959" text-anchor="end" textLength="17.44" lengthAdjust="spacingAndGlyphs">1984</text>
<text class="t" transform="translate(430.61,280.90) rotate(-90)" font-size="8.6" fill="#595959" text-anchor="end" textLength="17.44" lengthAdjust="spacingAndGlyphs">1994</text>
<text class="t" transform="translate(442.34,280.90) rotate(-90)" font-size="8.6" fill="#595959" text-anchor="end" textLength="17.44" lengthAdjust="spacingAndGlyphs">2004</text>
<text class="t" transform="translate(454.07,280.90) rotate(-90)" font-size="8.6" fill="#595959" text-anchor="end" textLength="17.44" lengthAdjust="spacingAndGlyphs">2014</text>
</g>
<path d="M262.9 230.6 L264.0 229.1 L265.4 230.9 L266.9 233.1 L267.7 236.0 L268.3 246.9 L269.5 230.1 L270.7 241.1 L272.1 244.7 L273.3 249.8 L274.6 260.1 L275.6 241.1 L276.8 227.9 L278.0 228.7 L279.0 230.1 L280.4 224.3 L281.5 248.4 L282.6 244.0 L283.8 242.5 L284.8 244.7 L286.3 251.3 L287.3 252.0 L288.5 234.5 L289.6 217.0 L290.7 218.5 L291.7 222.1 L292.6 236.7 L293.3 253.5 L294.6 231.6 L296.1 241.1 L297.2 243.3 L298.4 246.2 L299.4 239.6 L300.2 230.9 L301.3 243.3 L302.3 242.5 L303.8 237.9 L304.8 254.2 L305.7 245.5 L306.7 250.6 L307.7 249.1 L308.6 247.7 L309.6 254.2 L311.1 247.7 L312.1 239.6 L313.3 237.4 L314.5 242.5 L315.5 244.7 L316.5 240.4 L317.7 233.5 L318.7 244.0 L319.9 232.3 L320.6 233.1 L321.3 249.8 L322.3 247.7 L323.5 243.3 L324.7 257.1 L326.0 245.5 L327.5 251.3 L328.6 264.4 L329.6 257.9 L330.8 252.0 L331.8 261.5 L332.7 252.0 L334.0 238.2 L335.2 244.0 L336.7 254.2 L338.1 249.8 L339.3 247.7 L340.7 249.1 L342.2 257.1 L343.7 263.7 L344.7 250.6 L345.7 252.0 L346.9 238.5 L348.0 246.2 L349.4 246.9 L350.5 258.6 L351.5 243.3 L353.0 231.6 L354.5 234.5 L355.9 241.1 L357.4 245.2 L358.6 244.0 L359.7 236.0 L360.7 235.2 L361.8 252.8 L362.5 239.0 L363.7 222.9 L364.7 221.5 L365.7 222.9 L366.9 233.9 L368.0 230.2 L369.1 231.0 L370.5 239.0 L371.6 236.1 L372.7 238.3 L373.9 240.5 L374.9 245.6 L375.6 252.1 L376.8 236.1 L377.8 225.9 L378.8 233.2 L380.0 239.0 L381.2 241.9 L382.6 243.4 L383.7 233.2 L384.7 223.7 L385.6 230.2 L386.6 218.6 L387.6 230.2 L388.8 229.5 L389.9 228.5 L391.0 229.5 L392.0 233.2 L392.9 243.4 L393.4 233.9 L394.3 239.0 L395.3 237.5 L396.4 225.9 L397.5 217.1 L398.6 228.8 L399.7 240.5 L400.7 241.9 L401.6 231.0 L402.2 231.0 L403.4 247.0 L404.5 244.8 L405.6 246.3 L406.6 234.6 L407.5 229.5 L408.5 226.6 L409.5 227.6 L410.4 221.5 L411.4 218.6 L412.4 227.3 L413.3 234.9 L414.3 225.9 L415.1 236.1 L416.2 237.5 L417.7 239.0 L418.7 221.5 L419.7 225.9 L420.9 239.0 L422.1 233.2 L423.1 234.6 L424.1 236.8 L425.3 233.2 L426.4 233.2 L427.5 221.5 L428.5 234.6 L429.7 233.9 L430.4 227.3 L431.4 215.6 L432.6 219.3 L433.7 233.9 L434.8 225.1 L435.8 225.1 L437.0 223.7 L437.8 218.6 L438.7 223.7 L439.6 209.1 L440.6 211.3 L441.6 212.0 L442.5 216.4 L443.5 225.9 L444.5 224.4 L445.7 206.9 L446.7 215.6 L448.6 215.6 L450.8 214.9 L451.8 212.0 L453.0 203.2" fill="none" stroke="#000" stroke-width="1.35" stroke-linejoin="round"/>
<g>
<text transform="translate(572.4,164.95000000000002)" font-size="12.8" letter-spacing="0.22" fill="#4a4a4a" stroke="#4a4a4a" stroke-width="0.1" text-anchor="middle" textLength="76.02" lengthAdjust="spacingAndGlyphs">South Atlantic</text>
<path d="M492.6 179.2V275.4H683.7" fill="none" stroke="#d9d9d9" stroke-width="1"/>
<text class="t" transform="translate(484.3,278.1) scale(1.05,1)" font-size="8.6" fill="#595959" text-anchor="end" textLength="8.72" lengthAdjust="spacingAndGlyphs">23</text>
<text class="t" transform="translate(484.3,246.0) scale(1.05,1)" font-size="8.6" fill="#595959" text-anchor="end" textLength="8.72" lengthAdjust="spacingAndGlyphs">24</text>
<text class="t" transform="translate(484.3,214.0) scale(1.05,1)" font-size="8.6" fill="#595959" text-anchor="end" textLength="8.72" lengthAdjust="spacingAndGlyphs">25</text>
<text class="t" transform="translate(484.3,181.9) scale(1.05,1)" font-size="8.6" fill="#595959" text-anchor="end" textLength="8.72" lengthAdjust="spacingAndGlyphs">26</text>
<text class="t" transform="translate(496.59,280.90) rotate(-90)" font-size="8.6" fill="#595959" text-anchor="end" textLength="17.44" lengthAdjust="spacingAndGlyphs">1854</text>
<text class="t" transform="translate(508.31,280.90) rotate(-90)" font-size="8.6" fill="#595959" text-anchor="end" textLength="17.44" lengthAdjust="spacingAndGlyphs">1864</text>
<text class="t" transform="translate(520.03,280.90) rotate(-90)" font-size="8.6" fill="#595959" text-anchor="end" textLength="17.44" lengthAdjust="spacingAndGlyphs">1874</text>
<text class="t" transform="translate(531.76,280.90) rotate(-90)" font-size="8.6" fill="#595959" text-anchor="end" textLength="17.44" lengthAdjust="spacingAndGlyphs">1884</text>
<text class="t" transform="translate(543.48,280.90) rotate(-90)" font-size="8.6" fill="#595959" text-anchor="end" textLength="17.44" lengthAdjust="spacingAndGlyphs">1894</text>
<text class="t" transform="translate(555.21,280.90) rotate(-90)" font-size="8.6" fill="#595959" text-anchor="end" textLength="17.44" lengthAdjust="spacingAndGlyphs">1904</text>
<text class="t" transform="translate(566.93,280.90) rotate(-90)" font-size="8.6" fill="#595959" text-anchor="end" textLength="17.44" lengthAdjust="spacingAndGlyphs">1914</text>
<text class="t" transform="translate(578.65,280.90) rotate(-90)" font-size="8.6" fill="#595959" text-anchor="end" textLength="17.44" lengthAdjust="spacingAndGlyphs">1924</text>
<text class="t" transform="translate(590.38,280.90) rotate(-90)" font-size="8.6" fill="#595959" text-anchor="end" textLength="17.44" lengthAdjust="spacingAndGlyphs">1934</text>
<text class="t" transform="translate(602.10,280.90) rotate(-90)" font-size="8.6" fill="#595959" text-anchor="end" textLength="17.44" lengthAdjust="spacingAndGlyphs">1944</text>
<text class="t" transform="translate(613.83,280.90) rotate(-90)" font-size="8.6" fill="#595959" text-anchor="end" textLength="17.44" lengthAdjust="spacingAndGlyphs">1954</text>
<text class="t" transform="translate(625.55,280.90) rotate(-90)" font-size="8.6" fill="#595959" text-anchor="end" textLength="17.44" lengthAdjust="spacingAndGlyphs">1964</text>
<text class="t" transform="translate(637.27,280.90) rotate(-90)" font-size="8.6" fill="#595959" text-anchor="end" textLength="17.44" lengthAdjust="spacingAndGlyphs">1974</text>
<text class="t" transform="translate(649.00,280.90) rotate(-90)" font-size="8.6" fill="#595959" text-anchor="end" textLength="17.44" lengthAdjust="spacingAndGlyphs">1984</text>
<text class="t" transform="translate(660.72,280.90) rotate(-90)" font-size="8.6" fill="#595959" text-anchor="end" textLength="17.44" lengthAdjust="spacingAndGlyphs">1994</text>
<text class="t" transform="translate(672.45,280.90) rotate(-90)" font-size="8.6" fill="#595959" text-anchor="end" textLength="17.44" lengthAdjust="spacingAndGlyphs">2004</text>
<text class="t" transform="translate(684.17,280.90) rotate(-90)" font-size="8.6" fill="#595959" text-anchor="end" textLength="17.44" lengthAdjust="spacingAndGlyphs">2014</text>
</g>
<path d="M493.7 204.3 L494.8 202.8 L495.8 197.0 L496.6 212.3 L497.5 203.6 L498.3 202.1 L499.2 213.8 L500.2 205.8 L501.0 204.3 L501.8 204.3 L502.7 217.4 L503.9 190.4 L505.0 221.1 L506.1 213.8 L507.1 213.1 L508.3 207.2 L509.4 198.5 L510.4 196.3 L511.5 197.0 L512.6 213.1 L513.8 213.1 L514.8 210.1 L515.8 199.2 L516.7 192.6 L517.7 202.8 L518.8 200.6 L520.2 186.3 L521.4 212.3 L522.6 208.7 L523.6 197.7 L525.0 197.7 L526.1 200.6 L527.5 208.7 L528.7 207.2 L529.9 208.7 L530.9 218.2 L531.6 215.2 L532.8 221.8 L533.8 218.9 L535.3 216.7 L536.3 221.1 L537.7 229.1 L538.9 221.1 L540.1 218.2 L541.5 217.4 L542.6 215.2 L544.0 213.1 L545.0 214.1 L546.2 221.1 L547.4 218.2 L548.8 224.0 L550.3 229.1 L551.8 231.3 L552.8 224.7 L553.8 223.7 L555.0 230.6 L556.0 224.0 L556.9 226.2 L557.9 236.4 L559.1 243.7 L560.1 231.3 L561.1 215.2 L562.0 213.8 L563.0 218.9 L564.0 217.4 L564.9 213.1 L565.9 222.5 L566.9 226.9 L568.1 221.1 L569.3 216.0 L570.3 222.5 L571.8 207.9 L572.8 210.9 L573.7 216.0 L575.1 218.2 L576.6 206.5 L577.6 208.7 L578.6 211.6 L579.8 209.4 L581.0 210.1 L582.4 213.1 L583.4 213.8 L584.5 207.2 L585.6 204.3 L586.8 202.1 L587.8 203.3 L589.3 202.1 L590.3 199.9 L591.5 201.8 L592.2 209.1 L593.2 196.6 L594.3 216.4 L595.4 201.8 L596.6 196.6 L597.6 201.8 L598.8 193.7 L599.8 199.6 L601.0 202.5 L602.4 203.2 L603.4 202.5 L604.9 192.6 L606.4 206.1 L607.4 204.7 L608.6 202.5 L609.7 203.7 L610.7 203.2 L611.8 209.1 L612.9 212.7 L614.1 198.1 L615.1 207.6 L616.1 195.9 L617.0 201.0 L618.0 201.0 L619.5 201.8 L621.0 209.8 L622.4 211.2 L623.4 214.2 L624.6 222.6 L625.8 220.0 L627.5 217.1 L629.0 217.1 L630.2 212.7 L631.6 207.6 L632.6 203.2 L634.1 205.4 L635.1 197.4 L636.0 210.5 L636.6 214.9 L637.5 211.2 L638.5 208.3 L639.5 210.5 L640.7 211.2 L641.8 214.9 L642.9 207.6 L643.9 208.3 L644.8 211.2 L645.8 213.4 L646.8 207.6 L648.0 203.9 L649.1 203.9 L649.7 208.3 L650.6 221.5 L651.6 205.4 L652.6 204.7 L654.1 205.4 L655.0 218.5 L656.0 217.8 L657.5 212.0 L658.5 216.4 L659.7 225.1 L660.8 212.7 L662.3 206.1 L663.3 206.1 L664.8 212.0 L665.8 216.4 L666.7 203.9 L667.2 196.6 L668.4 202.5 L669.6 212.7 L671.0 212.0 L672.1 210.5 L673.1 202.5 L674.3 209.1 L675.4 209.8 L676.4 208.3 L677.5 206.9 L678.6 203.2 L679.8 202.5 L680.8 193.7 L681.8 179.9 L682.7 182.8 L683.7 186.4" fill="none" stroke="#000" stroke-width="1.35" stroke-linejoin="round"/>
<g>
<text transform="translate(114.39999999999999,318.25)" font-size="12.8" letter-spacing="0.22" fill="#4a4a4a" stroke="#4a4a4a" stroke-width="0.1" text-anchor="middle" textLength="65.81" lengthAdjust="spacingAndGlyphs">Mid Atlantic</text>
<path d="M35.0 333.0V429.1H225.8" fill="none" stroke="#d9d9d9" stroke-width="1"/>
<text class="t" transform="translate(26.7,431.8) scale(1.05,1)" font-size="8.6" fill="#595959" text-anchor="end" textLength="8.72" lengthAdjust="spacingAndGlyphs">15</text>
<text class="t" transform="translate(26.7,407.8) scale(1.05,1)" font-size="8.6" fill="#595959" text-anchor="end" textLength="8.72" lengthAdjust="spacingAndGlyphs">16</text>
<text class="t" transform="translate(26.7,383.8) scale(1.05,1)" font-size="8.6" fill="#595959" text-anchor="end" textLength="8.72" lengthAdjust="spacingAndGlyphs">17</text>
<text class="t" transform="translate(26.7,359.7) scale(1.05,1)" font-size="8.6" fill="#595959" text-anchor="end" textLength="8.72" lengthAdjust="spacingAndGlyphs">18</text>
<text class="t" transform="translate(26.7,335.7) scale(1.05,1)" font-size="8.6" fill="#595959" text-anchor="end" textLength="8.72" lengthAdjust="spacingAndGlyphs">19</text>
<text class="t" transform="translate(38.99,434.60) rotate(-90)" font-size="8.6" fill="#595959" text-anchor="end" textLength="17.44" lengthAdjust="spacingAndGlyphs">1854</text>
<text class="t" transform="translate(50.69,434.60) rotate(-90)" font-size="8.6" fill="#595959" text-anchor="end" textLength="17.44" lengthAdjust="spacingAndGlyphs">1864</text>
<text class="t" transform="translate(62.40,434.60) rotate(-90)" font-size="8.6" fill="#595959" text-anchor="end" textLength="17.44" lengthAdjust="spacingAndGlyphs">1874</text>
<text class="t" transform="translate(74.10,434.60) rotate(-90)" font-size="8.6" fill="#595959" text-anchor="end" textLength="17.44" lengthAdjust="spacingAndGlyphs">1884</text>
<text class="t" transform="translate(85.81,434.60) rotate(-90)" font-size="8.6" fill="#595959" text-anchor="end" textLength="17.44" lengthAdjust="spacingAndGlyphs">1894</text>
<text class="t" transform="translate(97.51,434.60) rotate(-90)" font-size="8.6" fill="#595959" text-anchor="end" textLength="17.44" lengthAdjust="spacingAndGlyphs">1904</text>
<text class="t" transform="translate(109.22,434.60) rotate(-90)" font-size="8.6" fill="#595959" text-anchor="end" textLength="17.44" lengthAdjust="spacingAndGlyphs">1914</text>
<text class="t" transform="translate(120.92,434.60) rotate(-90)" font-size="8.6" fill="#595959" text-anchor="end" textLength="17.44" lengthAdjust="spacingAndGlyphs">1924</text>
<text class="t" transform="translate(132.63,434.60) rotate(-90)" font-size="8.6" fill="#595959" text-anchor="end" textLength="17.44" lengthAdjust="spacingAndGlyphs">1934</text>
<text class="t" transform="translate(144.33,434.60) rotate(-90)" font-size="8.6" fill="#595959" text-anchor="end" textLength="17.44" lengthAdjust="spacingAndGlyphs">1944</text>
<text class="t" transform="translate(156.04,434.60) rotate(-90)" font-size="8.6" fill="#595959" text-anchor="end" textLength="17.44" lengthAdjust="spacingAndGlyphs">1954</text>
<text class="t" transform="translate(167.75,434.60) rotate(-90)" font-size="8.6" fill="#595959" text-anchor="end" textLength="17.44" lengthAdjust="spacingAndGlyphs">1964</text>
<text class="t" transform="translate(179.45,434.60) rotate(-90)" font-size="8.6" fill="#595959" text-anchor="end" textLength="17.44" lengthAdjust="spacingAndGlyphs">1974</text>
<text class="t" transform="translate(191.16,434.60) rotate(-90)" font-size="8.6" fill="#595959" text-anchor="end" textLength="17.44" lengthAdjust="spacingAndGlyphs">1984</text>
<text class="t" transform="translate(202.86,434.60) rotate(-90)" font-size="8.6" fill="#595959" text-anchor="end" textLength="17.44" lengthAdjust="spacingAndGlyphs">1994</text>
<text class="t" transform="translate(214.57,434.60) rotate(-90)" font-size="8.6" fill="#595959" text-anchor="end" textLength="17.44" lengthAdjust="spacingAndGlyphs">2004</text>
<text class="t" transform="translate(226.27,434.60) rotate(-90)" font-size="8.6" fill="#595959" text-anchor="end" textLength="17.44" lengthAdjust="spacingAndGlyphs">2014</text>
</g>
<path d="M35.7 377.8 L36.8 378.2 L37.8 398.6 L38.9 390.9 L39.7 383.6 L40.8 394.5 L41.5 393.8 L42.5 384.6 L43.7 383.6 L44.7 382.9 L45.9 387.2 L47.3 407.4 L48.5 382.9 L49.5 388.0 L50.6 386.1 L51.7 387.2 L52.9 388.0 L53.9 386.5 L54.6 392.4 L55.4 387.2 L56.4 377.8 L57.3 404.8 L58.3 393.1 L59.3 397.5 L60.5 396.7 L61.9 398.9 L63.1 401.8 L64.1 402.6 L65.1 393.8 L66.3 381.4 L67.5 398.9 L68.5 399.7 L69.5 404.0 L70.7 392.4 L71.9 391.3 L72.9 391.6 L73.6 394.5 L75.1 405.5 L76.2 396.0 L77.6 391.3 L78.7 402.6 L79.7 403.3 L80.9 413.5 L81.6 400.4 L82.7 385.8 L83.8 394.5 L84.9 393.1 L86.0 398.9 L87.0 396.0 L88.2 396.0 L89.4 389.9 L90.4 396.0 L91.6 410.6 L92.6 404.0 L93.6 404.0 L94.5 415.7 L95.5 407.0 L96.7 393.1 L97.4 413.5 L98.7 399.7 L99.9 403.3 L101.1 404.8 L102.1 394.5 L103.5 388.7 L104.6 382.9 L105.7 390.9 L106.8 385.5 L107.9 402.6 L109.4 414.3 L110.4 409.1 L111.6 404.8 L112.7 402.6 L114.2 377.0 L115.7 394.5 L116.8 406.2 L117.7 405.5 L118.9 389.4 L120.0 403.3 L121.5 393.8 L123.0 387.2 L124.4 384.3 L125.9 383.2 L127.3 382.9 L128.4 378.8 L129.4 380.7 L130.6 388.7 L131.7 389.4 L132.7 376.3 L134.1 375.6 L135.3 375.6 L136.3 399.7 L137.5 390.9 L138.7 379.2 L139.7 378.5 L140.7 371.2 L141.9 371.2 L143.0 378.5 L143.8 382.1 L144.5 368.3 L145.2 372.6 L146.0 385.8 L147.0 357.3 L147.7 376.3 L148.4 374.1 L149.5 365.6 L150.3 376.3 L151.4 380.7 L152.4 382.1 L153.6 387.2 L154.7 395.3 L155.3 391.6 L156.2 376.7 L157.2 390.9 L158.2 385.5 L159.4 387.2 L160.4 392.4 L161.6 393.1 L162.6 393.8 L163.8 398.9 L164.9 407.7 L166.4 413.8 L167.4 409.9 L168.4 401.8 L169.3 398.9 L170.3 398.9 L171.8 399.2 L172.8 397.5 L174.0 393.1 L175.2 385.1 L176.2 379.2 L177.2 380.7 L178.4 385.8 L179.5 392.4 L180.6 394.5 L181.6 392.4 L182.8 391.6 L183.5 393.8 L184.5 397.5 L185.7 388.7 L186.8 381.1 L187.9 386.5 L189.0 380.7 L190.1 382.9 L191.2 390.2 L192.2 399.7 L193.0 403.3 L193.7 388.0 L194.7 384.3 L195.9 383.6 L196.6 387.2 L197.4 401.8 L198.1 394.5 L199.3 390.5 L200.6 391.6 L202.0 409.9 L203.2 399.7 L204.4 388.0 L205.8 375.6 L206.8 380.7 L207.9 387.2 L209.0 373.8 L210.2 389.9 L211.2 390.5 L212.2 388.7 L213.4 381.4 L214.1 379.2 L215.2 384.3 L216.3 385.8 L217.5 382.9 L218.5 377.8 L219.5 378.5 L220.7 355.9 L221.9 366.8 L222.9 375.6 L223.9 369.7 L224.8 363.2 L225.8 358.8" fill="none" stroke="#000" stroke-width="1.35" stroke-linejoin="round"/>
<g>
<text transform="translate(342.0,318.25)" font-size="12.8" letter-spacing="0.22" fill="#4a4a4a" stroke="#4a4a4a" stroke-width="0.1" text-anchor="middle" textLength="70.55" lengthAdjust="spacingAndGlyphs">New England</text>
<path d="M262.4 333.0V429.1H453.6" fill="none" stroke="#d9d9d9" stroke-width="1"/>
<text class="t" transform="translate(254.1,431.8) scale(1.05,1)" font-size="8.6" fill="#595959" text-anchor="end" textLength="8.72" lengthAdjust="spacingAndGlyphs">12</text>
<text class="t" transform="translate(254.1,407.8) scale(1.05,1)" font-size="8.6" fill="#595959" text-anchor="end" textLength="8.72" lengthAdjust="spacingAndGlyphs">13</text>
<text class="t" transform="translate(254.1,383.8) scale(1.05,1)" font-size="8.6" fill="#595959" text-anchor="end" textLength="8.72" lengthAdjust="spacingAndGlyphs">14</text>
<text class="t" transform="translate(254.1,359.7) scale(1.05,1)" font-size="8.6" fill="#595959" text-anchor="end" textLength="8.72" lengthAdjust="spacingAndGlyphs">15</text>
<text class="t" transform="translate(254.1,335.7) scale(1.05,1)" font-size="8.6" fill="#595959" text-anchor="end" textLength="8.72" lengthAdjust="spacingAndGlyphs">16</text>
<text class="t" transform="translate(266.39,434.60) rotate(-90)" font-size="8.6" fill="#595959" text-anchor="end" textLength="17.44" lengthAdjust="spacingAndGlyphs">1854</text>
<text class="t" transform="translate(278.12,434.60) rotate(-90)" font-size="8.6" fill="#595959" text-anchor="end" textLength="17.44" lengthAdjust="spacingAndGlyphs">1864</text>
<text class="t" transform="translate(289.85,434.60) rotate(-90)" font-size="8.6" fill="#595959" text-anchor="end" textLength="17.44" lengthAdjust="spacingAndGlyphs">1874</text>
<text class="t" transform="translate(301.58,434.60) rotate(-90)" font-size="8.6" fill="#595959" text-anchor="end" textLength="17.44" lengthAdjust="spacingAndGlyphs">1884</text>
<text class="t" transform="translate(313.31,434.60) rotate(-90)" font-size="8.6" fill="#595959" text-anchor="end" textLength="17.44" lengthAdjust="spacingAndGlyphs">1894</text>
<text class="t" transform="translate(325.04,434.60) rotate(-90)" font-size="8.6" fill="#595959" text-anchor="end" textLength="17.44" lengthAdjust="spacingAndGlyphs">1904</text>
<text class="t" transform="translate(336.77,434.60) rotate(-90)" font-size="8.6" fill="#595959" text-anchor="end" textLength="17.44" lengthAdjust="spacingAndGlyphs">1914</text>
<text class="t" transform="translate(348.50,434.60) rotate(-90)" font-size="8.6" fill="#595959" text-anchor="end" textLength="17.44" lengthAdjust="spacingAndGlyphs">1924</text>
<text class="t" transform="translate(360.23,434.60) rotate(-90)" font-size="8.6" fill="#595959" text-anchor="end" textLength="17.44" lengthAdjust="spacingAndGlyphs">1934</text>
<text class="t" transform="translate(371.96,434.60) rotate(-90)" font-size="8.6" fill="#595959" text-anchor="end" textLength="17.44" lengthAdjust="spacingAndGlyphs">1944</text>
<text class="t" transform="translate(383.69,434.60) rotate(-90)" font-size="8.6" fill="#595959" text-anchor="end" textLength="17.44" lengthAdjust="spacingAndGlyphs">1954</text>
<text class="t" transform="translate(395.42,434.60) rotate(-90)" font-size="8.6" fill="#595959" text-anchor="end" textLength="17.44" lengthAdjust="spacingAndGlyphs">1964</text>
<text class="t" transform="translate(407.15,434.60) rotate(-90)" font-size="8.6" fill="#595959" text-anchor="end" textLength="17.44" lengthAdjust="spacingAndGlyphs">1974</text>
<text class="t" transform="translate(418.88,434.60) rotate(-90)" font-size="8.6" fill="#595959" text-anchor="end" textLength="17.44" lengthAdjust="spacingAndGlyphs">1984</text>
<text class="t" transform="translate(430.61,434.60) rotate(-90)" font-size="8.6" fill="#595959" text-anchor="end" textLength="17.44" lengthAdjust="spacingAndGlyphs">1994</text>
<text class="t" transform="translate(442.34,434.60) rotate(-90)" font-size="8.6" fill="#595959" text-anchor="end" textLength="17.44" lengthAdjust="spacingAndGlyphs">2004</text>
<text class="t" transform="translate(454.07,434.60) rotate(-90)" font-size="8.6" fill="#595959" text-anchor="end" textLength="17.44" lengthAdjust="spacingAndGlyphs">2014</text>
</g>
<path d="M263.1 374.6 L264.3 375.6 L265.4 398.9 L266.6 386.6 L267.9 385.7 L269.3 386.6 L270.2 379.5 L271.4 376.9 L272.5 386.6 L274.0 411.3 L275.5 370.3 L276.7 386.6 L277.8 383.1 L279.0 393.6 L280.2 384.8 L281.3 380.4 L282.5 395.4 L283.8 372.5 L284.8 400.7 L286.1 400.4 L287.3 401.6 L288.4 405.1 L289.6 409.9 L290.8 406.0 L291.9 402.5 L293.1 387.5 L294.4 404.2 L295.4 401.6 L296.7 401.6 L297.9 388.4 L299.0 391.0 L299.9 385.7 L301.1 391.9 L302.5 400.7 L303.7 388.4 L305.0 393.6 L306.0 401.6 L307.3 403.4 L308.5 413.1 L309.6 384.5 L310.8 391.0 L312.0 392.2 L313.5 393.6 L314.9 394.5 L316.1 383.9 L317.4 391.0 L318.8 406.9 L320.2 400.7 L321.4 399.8 L322.7 420.1 L323.7 391.0 L325.0 406.9 L326.2 396.3 L327.6 398.1 L329.0 391.0 L330.3 387.5 L331.5 381.3 L333.1 387.9 L334.4 385.2 L335.6 398.5 L336.7 413.5 L337.9 407.3 L339.2 404.7 L340.2 396.7 L341.3 377.3 L342.3 393.2 L343.8 408.2 L345.0 405.5 L345.9 394.1 L346.8 401.1 L347.6 393.2 L348.5 390.5 L349.8 388.8 L351.2 384.4 L352.9 379.9 L354.4 383.5 L355.6 380.8 L356.8 382.6 L357.9 389.6 L359.1 390.5 L360.0 373.8 L361.8 377.3 L363.2 396.7 L364.4 396.7 L365.7 380.8 L367.1 378.2 L368.5 371.1 L369.7 374.6 L371.0 383.5 L372.0 368.5 L373.3 388.8 L374.2 357.0 L375.4 379.1 L376.5 360.5 L377.7 370.2 L379.1 378.2 L380.3 383.5 L381.2 390.5 L382.1 397.6 L383.4 381.7 L384.4 388.8 L385.6 387.9 L386.9 387.0 L387.9 392.3 L389.2 395.8 L390.4 397.6 L391.5 407.3 L392.7 415.3 L394.0 412.6 L395.0 403.8 L396.3 397.6 L398.0 397.6 L399.5 397.8 L400.9 398.7 L402.2 387.2 L403.4 381.0 L404.8 385.4 L406.2 385.4 L407.5 392.5 L408.3 394.2 L409.8 389.8 L411.0 390.7 L412.2 392.5 L414.0 376.6 L415.1 380.1 L416.3 379.8 L417.5 384.5 L418.9 391.6 L420.0 397.8 L421.1 383.3 L422.5 383.6 L423.4 384.5 L424.6 396.9 L425.7 387.2 L426.9 384.2 L428.1 388.9 L429.2 404.8 L430.4 399.5 L431.7 383.6 L432.7 369.5 L434.0 374.8 L435.2 381.9 L436.3 373.9 L437.5 384.5 L438.7 386.3 L439.8 381.9 L441.0 372.7 L442.3 381.0 L443.7 381.0 L445.1 376.6 L446.3 373.9 L447.2 362.5 L448.1 347.4 L449.4 364.2 L450.4 366.9 L451.6 358.9 L452.9 350.4" fill="none" stroke="#000" stroke-width="1.35" stroke-linejoin="round"/>
<g>
<text transform="translate(572.4,318.25)" font-size="12.8" letter-spacing="0.22" fill="#4a4a4a" stroke="#4a4a4a" stroke-width="0.1" text-anchor="middle" textLength="62.64" lengthAdjust="spacingAndGlyphs">Great Lakes</text>
<path d="M492.6 333.0V429.1H683.7" fill="none" stroke="#d9d9d9" stroke-width="1"/>
<text class="t" transform="translate(484.3,431.8) scale(1.05,1)" font-size="8.6" fill="#595959" text-anchor="end" textLength="4.36" lengthAdjust="spacingAndGlyphs">5</text>
<text class="t" transform="translate(484.3,415.8) scale(1.05,1)" font-size="8.6" fill="#595959" text-anchor="end" textLength="4.36" lengthAdjust="spacingAndGlyphs">6</text>
<text class="t" transform="translate(484.3,399.8) scale(1.05,1)" font-size="8.6" fill="#595959" text-anchor="end" textLength="4.36" lengthAdjust="spacingAndGlyphs">7</text>
<text class="t" transform="translate(484.3,383.8) scale(1.05,1)" font-size="8.6" fill="#595959" text-anchor="end" textLength="4.36" lengthAdjust="spacingAndGlyphs">8</text>
<text class="t" transform="translate(484.3,367.7) scale(1.05,1)" font-size="8.6" fill="#595959" text-anchor="end" textLength="4.36" lengthAdjust="spacingAndGlyphs">9</text>
<text class="t" transform="translate(484.3,351.7) scale(1.05,1)" font-size="8.6" fill="#595959" text-anchor="end" textLength="8.72" lengthAdjust="spacingAndGlyphs">10</text>
<text class="t" transform="translate(484.3,335.7) scale(1.05,1)" font-size="8.6" fill="#595959" text-anchor="end" textLength="8.72" lengthAdjust="spacingAndGlyphs">11</text>
<text class="t" transform="translate(496.59,434.60) rotate(-90)" font-size="8.6" fill="#595959" text-anchor="end" textLength="17.44" lengthAdjust="spacingAndGlyphs">1854</text>
<text class="t" transform="translate(508.31,434.60) rotate(-90)" font-size="8.6" fill="#595959" text-anchor="end" textLength="17.44" lengthAdjust="spacingAndGlyphs">1864</text>
<text class="t" transform="translate(520.03,434.60) rotate(-90)" font-size="8.6" fill="#595959" text-anchor="end" textLength="17.44" lengthAdjust="spacingAndGlyphs">1874</text>
<text class="t" transform="translate(531.76,434.60) rotate(-90)" font-size="8.6" fill="#595959" text-anchor="end" textLength="17.44" lengthAdjust="spacingAndGlyphs">1884</text>
<text class="t" transform="translate(543.48,434.60) rotate(-90)" font-size="8.6" fill="#595959" text-anchor="end" textLength="17.44" lengthAdjust="spacingAndGlyphs">1894</text>
<text class="t" transform="translate(555.21,434.60) rotate(-90)" font-size="8.6" fill="#595959" text-anchor="end" textLength="17.44" lengthAdjust="spacingAndGlyphs">1904</text>
<text class="t" transform="translate(566.93,434.60) rotate(-90)" font-size="8.6" fill="#595959" text-anchor="end" textLength="17.44" lengthAdjust="spacingAndGlyphs">1914</text>
<text class="t" transform="translate(578.65,434.60) rotate(-90)" font-size="8.6" fill="#595959" text-anchor="end" textLength="17.44" lengthAdjust="spacingAndGlyphs">1924</text>
<text class="t" transform="translate(590.38,434.60) rotate(-90)" font-size="8.6" fill="#595959" text-anchor="end" textLength="17.44" lengthAdjust="spacingAndGlyphs">1934</text>
<text class="t" transform="translate(602.10,434.60) rotate(-90)" font-size="8.6" fill="#595959" text-anchor="end" textLength="17.44" lengthAdjust="spacingAndGlyphs">1944</text>
<text class="t" transform="translate(613.83,434.60) rotate(-90)" font-size="8.6" fill="#595959" text-anchor="end" textLength="17.44" lengthAdjust="spacingAndGlyphs">1954</text>
<text class="t" transform="translate(625.55,434.60) rotate(-90)" font-size="8.6" fill="#595959" text-anchor="end" textLength="17.44" lengthAdjust="spacingAndGlyphs">1964</text>
<text class="t" transform="translate(637.27,434.60) rotate(-90)" font-size="8.6" fill="#595959" text-anchor="end" textLength="17.44" lengthAdjust="spacingAndGlyphs">1974</text>
<text class="t" transform="translate(649.00,434.60) rotate(-90)" font-size="8.6" fill="#595959" text-anchor="end" textLength="17.44" lengthAdjust="spacingAndGlyphs">1984</text>
<text class="t" transform="translate(660.72,434.60) rotate(-90)" font-size="8.6" fill="#595959" text-anchor="end" textLength="17.44" lengthAdjust="spacingAndGlyphs">1994</text>
<text class="t" transform="translate(672.45,434.60) rotate(-90)" font-size="8.6" fill="#595959" text-anchor="end" textLength="17.44" lengthAdjust="spacingAndGlyphs">2004</text>
<text class="t" transform="translate(684.17,434.60) rotate(-90)" font-size="8.6" fill="#595959" text-anchor="end" textLength="17.44" lengthAdjust="spacingAndGlyphs">2014</text>
</g>
<path d="M493.6 390.5 L494.7 365.8 L495.7 402.0 L497.1 400.2 L498.2 383.5 L499.3 387.9 L500.3 368.5 L501.6 346.4 L502.8 373.8 L503.9 387.9 L505.1 397.6 L506.3 350.8 L507.8 361.4 L509.0 370.2 L509.9 357.9 L510.9 373.8 L512.0 353.4 L513.1 374.6 L514.3 349.9 L515.5 375.5 L516.6 376.4 L517.8 412.6 L519.1 379.1 L520.1 382.6 L521.4 383.5 L522.6 393.2 L523.7 372.9 L524.9 396.7 L526.1 406.4 L527.6 403.8 L529.0 399.4 L530.2 394.9 L532.0 380.8 L533.2 383.5 L534.6 384.4 L536.0 389.6 L537.3 400.2 L538.5 399.4 L539.6 391.4 L540.8 382.6 L542.2 377.6 L543.8 394.9 L544.9 391.4 L546.1 366.7 L547.4 391.4 L548.8 391.4 L550.2 396.7 L551.4 406.4 L552.7 410.8 L554.1 393.2 L555.5 402.9 L556.7 381.7 L558.0 387.9 L559.0 399.4 L560.3 380.8 L561.5 393.2 L563.5 393.2 L564.9 392.3 L566.2 396.4 L567.4 397.6 L568.5 407.3 L569.7 403.8 L570.9 401.1 L572.0 383.5 L573.2 400.2 L574.5 406.4 L575.9 391.4 L576.9 387.9 L578.0 395.8 L579.1 402.0 L580.3 393.2 L581.5 391.4 L582.9 387.9 L583.8 373.8 L585.1 368.8 L586.1 373.8 L587.4 384.4 L588.6 390.5 L589.7 392.3 L590.9 380.8 L592.1 383.5 L593.2 382.6 L594.4 390.5 L595.3 367.6 L596.7 373.8 L598.0 387.9 L599.2 375.5 L600.3 372.0 L601.5 381.7 L602.4 361.4 L603.8 378.2 L604.5 364.0 L605.9 391.4 L607.0 363.2 L608.6 363.2 L609.8 370.2 L610.9 387.0 L612.1 378.2 L613.0 388.8 L614.4 379.9 L615.6 389.6 L616.9 387.0 L617.9 387.9 L619.2 390.5 L620.4 388.8 L621.8 391.4 L623.3 394.9 L624.5 390.5 L625.7 392.3 L627.1 381.7 L628.1 381.8 L629.5 382.5 L630.9 383.0 L632.2 392.7 L633.0 373.3 L633.9 384.8 L634.8 378.6 L635.7 376.5 L636.6 387.4 L638.0 388.3 L639.2 384.8 L640.5 380.4 L641.5 378.9 L642.8 379.5 L643.6 384.8 L644.7 366.2 L645.8 379.5 L646.8 378.6 L648.1 380.4 L649.3 369.8 L650.7 381.2 L652.1 383.9 L653.4 383.9 L654.3 370.6 L655.7 389.2 L656.9 387.4 L658.3 376.8 L659.6 394.5 L660.8 380.4 L662.0 357.4 L663.5 363.6 L664.9 369.8 L666.3 368.9 L667.0 370.6 L668.0 383.0 L669.3 375.1 L670.5 363.6 L671.9 361.8 L673.4 365.3 L674.6 373.3 L675.5 375.9 L676.4 353.0 L677.2 359.2 L678.5 347.7 L679.9 364.5 L681.1 378.6 L682.5 365.3 L683.6 348.6" fill="none" stroke="#000" stroke-width="1.35" stroke-linejoin="round"/>
<text class="t" transform="translate(8.1,64.0) rotate(-90)" font-size="10.3" fill="#595959" text-anchor="middle" textLength="122.58" lengthAdjust="spacingAndGlyphs">Sea Surface Temperature (ºC)</text>
<line x1="14.4" y1="135.5" x2="36.3" y2="135.5" stroke="#000" stroke-width="1.5"/><text class="t g" transform="translate(38.7,138.1) scale(0.946,1)" font-size="9.2" letter-spacing="0.07" fill="#595959" textLength="52.17" lengthAdjust="spacingAndGlyphs">Gulf of Alaska</text>
<line x1="96.1" y1="135.5" x2="118" y2="135.5" stroke="#a6a6a6" stroke-width="1.5"/><text class="t g" transform="translate(120.5,138.1) scale(0.946,1)" font-size="9.2" letter-spacing="0.07" fill="#595959" textLength="46.72" lengthAdjust="spacingAndGlyphs">E Bering Sea</text>
<line x1="172.4" y1="135.5" x2="193.2" y2="135.5" stroke="#000" stroke-width="1.2" stroke-dasharray="1 1.2"/><text class="t g" transform="translate(196.2,138.1) scale(0.946,1)" font-size="9.2" letter-spacing="0.07" fill="#595959" textLength="21.77" lengthAdjust="spacingAndGlyphs">Arctic</text>
<line x1="515.7" y1="135.5" x2="532.5" y2="135.5" stroke="#000" stroke-width="1.5"/><text class="t g" transform="translate(534.0,138.1) scale(0.946,1)" font-size="9.2" letter-spacing="0.07" fill="#595959" textLength="48.19" lengthAdjust="spacingAndGlyphs">PI Territories</text>
<line x1="589.3" y1="135.5" x2="605.6" y2="135.5" stroke="#a6a6a6" stroke-width="1.5"/><text class="t g" transform="translate(607.6,138.1) scale(0.946,1)" font-size="9.2" letter-spacing="0.07" fill="#595959" textLength="25.58" lengthAdjust="spacingAndGlyphs">Hawaii</text>
</svg></body></html>
